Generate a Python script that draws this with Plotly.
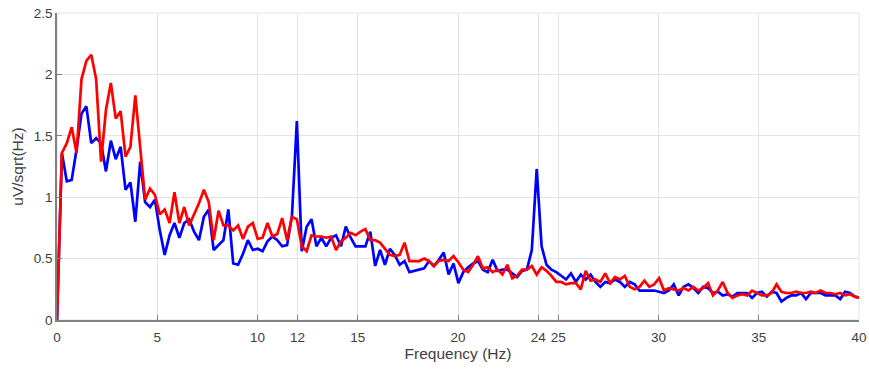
import plotly.graph_objects as go

freq_step = 250 / 1024  # spectral resolution (Hz)

blue_vals = [
    0, 1.36, 1.13, 1.14, 1.39, 1.68, 1.74, 1.44, 1.48, 1.44,
    1.21, 1.46, 1.31, 1.41, 1.06, 1.12, 0.80, 1.29, 0.96, 0.92,
    0.98, 0.73, 0.53, 0.69, 0.79, 0.67, 0.79, 0.82, 0.72, 0.65,
    0.84, 0.90, 0.57, 0.61, 0.65, 0.90, 0.46, 0.45, 0.54, 0.65,
    0.57, 0.58, 0.56, 0.64, 0.68, 0.65, 0.60, 0.61, 0.85, 1.62,
    0.56, 0.76, 0.82, 0.60, 0.67, 0.60, 0.67, 0.69, 0.60, 0.76,
    0.67, 0.60, 0.60, 0.60, 0.72, 0.44, 0.57, 0.45, 0.58, 0.53,
    0.45, 0.48, 0.39, 0.40, 0.41, 0.42, 0.48, 0.44, 0.49, 0.55,
    0.37, 0.46, 0.30, 0.39, 0.43, 0.46, 0.48, 0.41, 0.39, 0.49,
    0.40, 0.41, 0.41, 0.38, 0.35, 0.40, 0.41, 0.57, 1.23, 0.60,
    0.45, 0.41, 0.39, 0.36, 0.33, 0.38, 0.31, 0.37, 0.33, 0.37,
    0.31, 0.27, 0.31, 0.30, 0.33, 0.31, 0.27, 0.31, 0.29, 0.24,
    0.24, 0.24, 0.24, 0.23, 0.22, 0.24, 0.29, 0.20, 0.27, 0.29,
    0.26, 0.22, 0.27, 0.26, 0.22, 0.23, 0.20, 0.21, 0.19, 0.22,
    0.22, 0.22, 0.18, 0.22, 0.23, 0.19, 0.23, 0.22, 0.15, 0.18,
    0.20, 0.20, 0.22, 0.17, 0.22, 0.22, 0.22, 0.20, 0.20, 0.20,
    0.17, 0.23, 0.22, 0.19, 0.18,
]

red_vals = [
    0, 1.36, 1.44, 1.57, 1.36, 1.96, 2.11, 2.16, 1.96, 1.29,
    1.71, 1.93, 1.64, 1.70, 1.33, 1.41, 1.83, 1.42, 0.98, 1.07,
    1.02, 0.86, 0.90, 0.79, 1.04, 0.79, 0.92, 0.77, 0.86, 0.95,
    1.06, 0.96, 0.65, 0.89, 0.77, 0.77, 0.73, 0.77, 0.66, 0.76,
    0.79, 0.66, 0.67, 0.79, 0.68, 0.70, 0.83, 0.65, 0.84, 0.82,
    0.60, 0.56, 0.69, 0.68, 0.68, 0.67, 0.68, 0.57, 0.64, 0.67,
    0.71, 0.69, 0.72, 0.74, 0.65, 0.65, 0.63, 0.58, 0.53, 0.52,
    0.53, 0.63, 0.48, 0.48, 0.48, 0.50, 0.48, 0.44, 0.48, 0.49,
    0.48, 0.52, 0.47, 0.41, 0.39, 0.45, 0.52, 0.42, 0.43, 0.39,
    0.41, 0.37, 0.45, 0.34, 0.36, 0.41, 0.41, 0.44, 0.37, 0.43,
    0.40, 0.36, 0.31, 0.31, 0.29, 0.30, 0.30, 0.25, 0.40, 0.32,
    0.33, 0.31, 0.38, 0.30, 0.35, 0.33, 0.36, 0.27, 0.25, 0.27,
    0.32, 0.27, 0.29, 0.34, 0.24, 0.26, 0.25, 0.24, 0.26, 0.24,
    0.27, 0.24, 0.26, 0.30, 0.20, 0.24, 0.31, 0.22, 0.18, 0.20,
    0.21, 0.20, 0.24, 0.22, 0.20, 0.20, 0.22, 0.29, 0.23, 0.22,
    0.22, 0.23, 0.22, 0.22, 0.23, 0.22, 0.24, 0.22, 0.22, 0.21,
    0.22, 0.20, 0.21, 0.19, 0.18,
]

x_ticks = [0, 5, 10, 12, 15, 20, 24, 25, 30, 35, 40]
y_ticks = [0, 0.5, 1, 1.5, 2, 2.5]
y_tick_text = ["0", "0.5", "1", "1.5", "2", "2.5"]

freq_blue = [i * freq_step for i in range(len(blue_vals))]
freq_red = [i * freq_step for i in range(len(red_vals))]

fig = go.Figure()
fig.add_trace(go.Scatter(x=freq_blue, y=blue_vals, mode="lines",
                         line=dict(color="#0000ff", width=2.7), showlegend=False))
fig.add_trace(go.Scatter(x=freq_red, y=red_vals, mode="lines",
                         line=dict(color="#ff0000", width=2.7), showlegend=False))

# light box on top/right
fig.add_shape(type="rect", xref="x domain", yref="y domain", x0=0, x1=1, y0=0, y1=1,
              line=dict(color="#e3e3e3", width=1), layer="below")

fam = "Liberation Sans, Arial, sans-serif"
tick_font = dict(family=fam, size=13.5, color="#404040")
title_font = dict(family=fam, size=15.5, color="#404040")

fig.update_layout(
    width=869, height=371,
    margin=dict(l=57, r=10, t=13, b=51, autoexpand=False),
    paper_bgcolor="white", plot_bgcolor="white",
    font=tick_font,
    xaxis=dict(range=[0, 40], tickmode="array", tickvals=x_ticks,
               ticktext=[str(t) for t in x_ticks], automargin=False,
               showgrid=True, gridcolor="#e3e3e3", gridwidth=1,
               showline=True, linecolor="#808080", linewidth=1.5,
               ticks="inside", ticklen=5, tickcolor="#808080",
               zeroline=False, tickfont=tick_font, ticklabelstandoff=4,
               title=dict(text="Frequency (Hz)", font=title_font, standoff=4)),
    yaxis=dict(range=[0, 2.5], tickmode="array", tickvals=y_ticks, ticktext=y_tick_text,
               automargin=False,
               showgrid=True, gridcolor="#e3e3e3", gridwidth=1,
               showline=True, linecolor="#808080", linewidth=1.5,
               ticks="inside", ticklen=5, tickcolor="#808080",
               zeroline=False, tickfont=tick_font,
               title=dict(text="uV/sqrt(Hz)", font=title_font, standoff=6)),
)

fig.write_html("out.html")
